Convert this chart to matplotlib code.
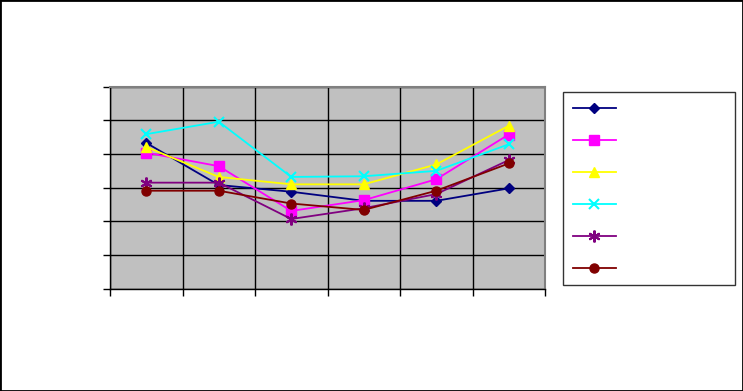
import matplotlib
matplotlib.use("Agg")
import matplotlib.pyplot as plt
from matplotlib.patches import Rectangle

# six categories, no visible labels in the reference
categories = [1, 2, 3, 4, 5, 6]

series_a = [4.33, 3.08, 2.88, 2.61, 2.61, 2.98]
series_b = [4.04, 3.64, 2.31, 2.63, 3.25, 4.58]
series_c = [4.21, 3.32, 3.10, 3.10, 3.69, 4.84]
series_d = [4.59, 4.96, 3.32, 3.34, 3.50, 4.29]
series_e = [3.15, 3.15, 2.07, 2.39, 2.81, 3.82]
series_f = [2.91, 2.91, 2.53, 2.34, 2.91, 3.72]

y_ticks = [0, 1, 2, 3, 4, 5, 6]

styles = [
    (series_a, "#000080", "D", 5.5, 1.0),
    (series_b, "#FF00FF", "s", 6.5, 1.0),
    (series_c, "#FFFF00", "^", 7.5, 1.0),
    (series_d, "#00FFFF", "x", 7.5, 1.5),
    (series_e, "#800080", (6, 2, 0), 8.5, 1.5),
    (series_f, "#800000", "o", 6.5, 1.0),
]

fig = plt.figure(figsize=(7.43, 3.91), dpi=100)
ax = fig.add_axes([110 / 743, 1 - 288.7 / 391, 435 / 743, 202 / 391])
ax.set_facecolor("#C0C0C0")

handles = []
for vals, col, mk, ms, mew in styles:
    h, = ax.plot(categories, vals, color=col, marker=mk, markersize=ms,
                 markeredgewidth=mew, markeredgecolor=col, markerfacecolor=col,
                 linewidth=1.3)
    handles.append(h)

ax.set_xlim(0.5, 6.5)
ax.set_ylim(0, 6)
ax.set_yticks(y_ticks)
ax.set_xticks([0.5, 1.5, 2.5, 3.5, 4.5, 5.5, 6.5])
ax.set_yticklabels([])
ax.set_xticklabels([])
ax.grid(True, color="black", linewidth=1.0)
ax.set_axisbelow(True)
ax.tick_params(axis="both", direction="out", length=5, width=1, color="black")
for side in ["top", "right"]:
    ax.spines[side].set_color("#808080")
    ax.spines[side].set_linewidth(1.5)
for side in ["left", "bottom"]:
    ax.spines[side].set_color("black")
    ax.spines[side].set_linewidth(1.0)

leg = fig.legend(handles, [" "] * 6, loc="upper left",
                 bbox_to_anchor=(563 / 743, 1 - 282.7 / 391, 172 / 743, 191 / 391),
                 mode="expand", fontsize=10, labelspacing=1.3, handlelength=3.1,
                 borderpad=0.7, frameon=True, fancybox=False, borderaxespad=0)
leg.get_frame().set_edgecolor("black")
leg.get_frame().set_linewidth(1.0)

fig.patches.append(Rectangle((0, 0), 1, 1, transform=fig.transFigure,
                             fill=False, edgecolor="black", linewidth=2))

fig.savefig("out.png", dpi=100)
